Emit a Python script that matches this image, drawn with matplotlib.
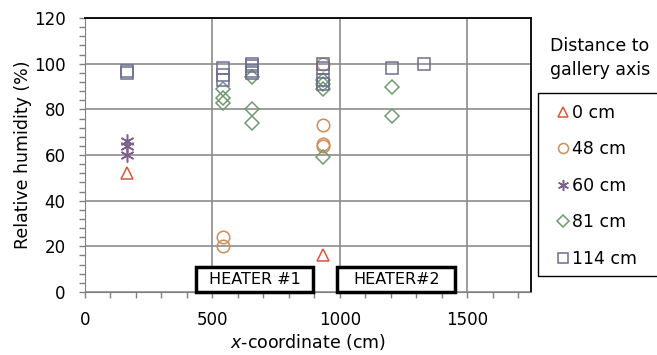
import matplotlib.pyplot as plt
from matplotlib.patches import Rectangle
from matplotlib.ticker import MultipleLocator

plt.rcParams['font.family'] = ['DejaVu Sans']

# measured relative humidity (%) by x-coordinate (cm), per distance to gallery axis
x_0cm = [165, 935]
rh_0cm = [52, 16]

x_48cm = [540, 540, 935, 935, 935, 935]
rh_48cm = [24, 20, 100, 73, 65, 64]

x_60cm = [165, 165, 165]
rh_60cm = [66, 64, 60]

x_81cm = [540, 540, 540, 655, 655, 655, 935, 935, 935, 935, 1205, 1205]
rh_81cm = [89, 85, 83, 94, 80, 74, 93, 91, 89, 59, 90, 77]

x_114cm = [165, 165, 540, 540, 540, 655, 655, 655, 655, 935, 935, 935, 935, 1205, 1330]
rh_114cm = [97, 96, 98, 95, 93, 100, 99, 97, 96, 100, 98, 93, 91, 98, 100]

series = [
    ("0 cm", x_0cm, rh_0cm, "^", "#d9573c"),
    ("48 cm", x_48cm, rh_48cm, "o", "#d08c55"),
    ("60 cm", x_60cm, rh_60cm, (6, 2, 0), "#7d5f8c"),
    ("81 cm", x_81cm, rh_81cm, "D", "#6f9a70"),
    ("114 cm", x_114cm, rh_114cm, "s", "#6b6f8e"),
]

heater_labels = ["HEATER #1", "HEATER#2"]
heater_x0 = [437, 991]
heater_x1 = [894, 1452]
heater_top = 11

fig = plt.figure(figsize=(6.57, 3.55), dpi=100)
ax = fig.add_axes([0.1294, 0.1775, 0.6786, 0.7715])

for label, xs, ys, mk, col in series:
    ms = {"D": 7.5, "^": 9}.get(mk, 9) if not isinstance(mk, tuple) else 10
    ax.plot(xs, ys, linestyle="none", marker=mk, markersize=ms,
            markerfacecolor="none", markeredgecolor=col, markeredgewidth=1.1,
            label=label, clip_on=False, zorder=3)

for lab, a, b in zip(heater_labels, heater_x0, heater_x1):
    ax.add_patch(Rectangle((a, 0), b - a, heater_top, facecolor="white",
                           edgecolor="black", linewidth=2.5, zorder=4, clip_on=False))
    ax.text((a + b) / 2, heater_top / 2, lab, ha="center", va="center",
            fontsize=11.5, zorder=5)

ax.set_xlim(0, 1750)
ax.set_ylim(0, 120)
ax.xaxis.set_major_locator(MultipleLocator(500))
ax.xaxis.set_minor_locator(MultipleLocator(100))
ax.yaxis.set_major_locator(MultipleLocator(20))
ax.yaxis.set_minor_locator(MultipleLocator(4))
ax.tick_params(which="both", direction="out", length=4, width=1, color="#808080",
               labelsize=12)
ax.tick_params(axis="x", pad=10)
ax.tick_params(axis="y", pad=10)
ax.grid(True, which="major", color="#8c8c8c", linewidth=1.2)
ax.set_axisbelow(True)
for side in ["left", "bottom"]:
    ax.spines[side].set_color("#808080")
for side in ["top", "right"]:
    ax.spines[side].set_color("black")
    ax.spines[side].set_linewidth(1.3)

ax.set_xlabel("$\\it{x}$-coordinate (cm)", fontsize=12.5, labelpad=2)
ax.set_ylabel("Relative humidity (%)", fontsize=12.5, labelpad=1)

# legend title sits above the legend box
fig.text(0.913, 0.836, "Distance to\ngallery axis", ha="center", va="center",
         fontsize=12.5, linespacing=1.4)
# legend frame runs off the right edge of the figure
fig.patches.append(Rectangle((538 / 657, 1 - 276 / 355), 130 / 657, 183 / 355,
                             transform=fig.transFigure, facecolor="none",
                             edgecolor="black", linewidth=1.0, zorder=5))
leg = fig.legend(loc="upper left", bbox_to_anchor=(0.846, 0.708), fontsize=12.5,
                 frameon=False, handletextpad=0.15, handlelength=0.8,
                 labelspacing=1.07, borderpad=0, borderaxespad=0,
                 markerscale=0.8)

fig.savefig("out.png", dpi=100)
